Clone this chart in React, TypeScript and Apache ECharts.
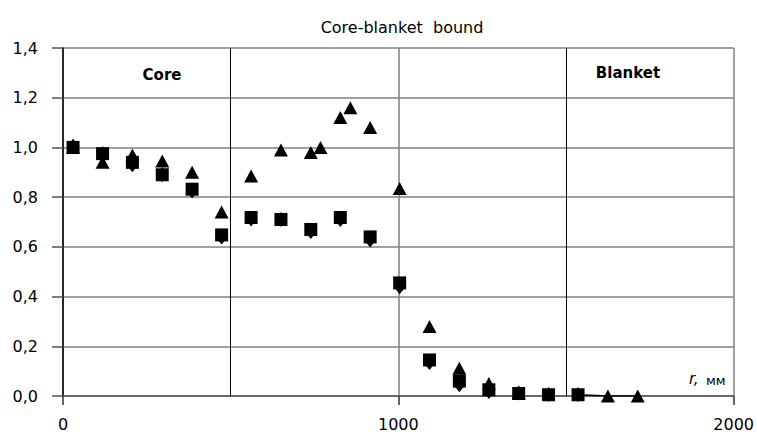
import React, { useEffect, useRef } from "react";
import * as echarts from "echarts";

const xTriangles = [30, 118, 207, 296, 385, 473, 561, 650, 739, 768, 827, 857, 916, 1004, 1093, 1182, 1270, 1359, 1625, 1714];
const yTriangles = [1.0, 0.94, 0.97, 0.945, 0.9, 0.74, 0.885, 0.99, 0.98, 1.0, 1.12, 1.16, 1.08, 0.835, 0.28, 0.112, 0.05, 0.01, 0.0, 0.0];

const xSquares = [30, 118, 207, 296, 385, 473, 561, 650, 739, 827, 916, 1004, 1093, 1182, 1270, 1359, 1448, 1536];
const ySquares = [1.0, 0.975, 0.94, 0.89, 0.832, 0.648, 0.718, 0.71, 0.67, 0.718, 0.64, 0.455, 0.145, 0.06, 0.025, 0.01, 0.005, 0.005];
const yDiamonds = [1.005, 0.975, 0.93, 0.89, 0.825, 0.64, 0.712, 0.71, 0.662, 0.71, 0.628, 0.44, 0.135, 0.045, 0.018, 0.012, 0.006, 0.006];

const xTail = [1536, 1625, 1714];
const yTail = [0.005, 0.0, 0.0];

const boundaries = [500, 1500];
const zoneLabels = ["Core", "Blanket"];
const titleText = "Core-blanket  bound";
const axisName = "мм";

const FONT = "DejaVu Sans";

export default function App() {
  const ref = useRef<HTMLDivElement>(null);
  useEffect(() => {
    if (!ref.current) return;
    const chart = echarts.init(ref.current, null, { renderer: "svg" });
    const zip = (xs: number[], ys: number[]) => xs.map((x, i) => [x, ys[i]]);
    chart.setOption({
      animation: false,
      backgroundColor: "#ffffff",
      title: {
        text: titleText,
        left: 397,
        top: 14,
        textAlign: "center",
        textStyle: { fontFamily: FONT, fontSize: 16, fontWeight: "normal", color: "#000" },
      },
      grid: { left: 63, right: 17, top: 48, bottom: 34, containLabel: false },
      xAxis: {
        type: "value",
        min: 0,
        max: 2000,
        interval: 1000,
        axisLine: { show: true, onZero: false, lineStyle: { color: "#555", width: 1.5 } },
        axisTick: { show: true, length: 9, lineStyle: { color: "#333", width: 1.5 } },
        axisLabel: { margin: 20, fontFamily: FONT, fontSize: 16, color: "#000", formatter: (v: number) => String(v) },
        splitLine: { show: true, lineStyle: { color: "#808080", width: 1.5 } },
      },
      yAxis: {
        type: "value",
        min: 0,
        max: 1.4,
        interval: 0.2,
        axisLine: { show: true, lineStyle: { color: "#000", width: 1.5 } },
        axisTick: { show: true, length: 11, lineStyle: { color: "#555", width: 1.5 } },
        axisLabel: {
          margin: 25,
          fontFamily: FONT,
          fontSize: 16,
          color: "#000",
          formatter: (v: number) => v.toFixed(1).replace(".", ","),
        },
        splitLine: { show: true, lineStyle: { color: "#808080", width: 1.5 } },
      },
      graphic: [
        {
          type: "text",
          x: 162,
          y: 75,
          style: { text: zoneLabels[0], fontFamily: FONT, fontSize: 15, fontWeight: "bold", fill: "#000", textAlign: "center", textVerticalAlign: "middle" },
        },
        {
          type: "text",
          x: 628,
          y: 73,
          style: { text: zoneLabels[1], fontFamily: FONT, fontSize: 15, fontWeight: "bold", fill: "#000", textAlign: "center", textVerticalAlign: "middle" },
        },
        {
          type: "text",
          x: 689,
          y: 379,
          style: { text: "r,", fontFamily: FONT, fontSize: 15, fontStyle: "italic", fill: "#000", textAlign: "left", textVerticalAlign: "middle" },
        },
        {
          type: "text",
          x: 706,
          y: 380,
          style: { text: axisName, fontFamily: FONT, fontSize: 13, fill: "#000", textAlign: "left", textVerticalAlign: "middle" },
        },
      ],
      series: [
        {
          name: "tail",
          type: "line",
          data: zip(xTail, yTail),
          showSymbol: false,
          symbol: "none",
          lineStyle: { color: "#000", width: 1.5 },
          z: 2,
        },
        {
          name: "diamonds",
          type: "scatter",
          symbol: "diamond",
          symbolSize: [12, 15],
          itemStyle: { color: "#000", opacity: 1 },
          data: zip(xSquares, yDiamonds),
          z: 3,
        },
        {
          name: "squares",
          type: "scatter",
          symbol: "rect",
          symbolSize: 13,
          itemStyle: { color: "#000", opacity: 1 },
          data: zip(xSquares, ySquares),
          z: 4,
        },
        {
          name: "triangles",
          type: "scatter",
          symbol: "triangle",
          symbolSize: [14, 13],
          itemStyle: { color: "#000", opacity: 1 },
          data: zip(xTriangles, yTriangles),
          z: 5,
          markLine: {
            silent: true,
            symbol: "none",
            label: { show: false },
            lineStyle: { color: "#000", width: 1, type: "solid" },
            data: boundaries.map((b) => ({ xAxis: b })),
          },
        },
      ],
    });
    return () => chart.dispose();
  }, []);
  return <div ref={ref} style={{ width: 757, height: 432, position: "absolute", left: 0, top: 0 }} />;
}
